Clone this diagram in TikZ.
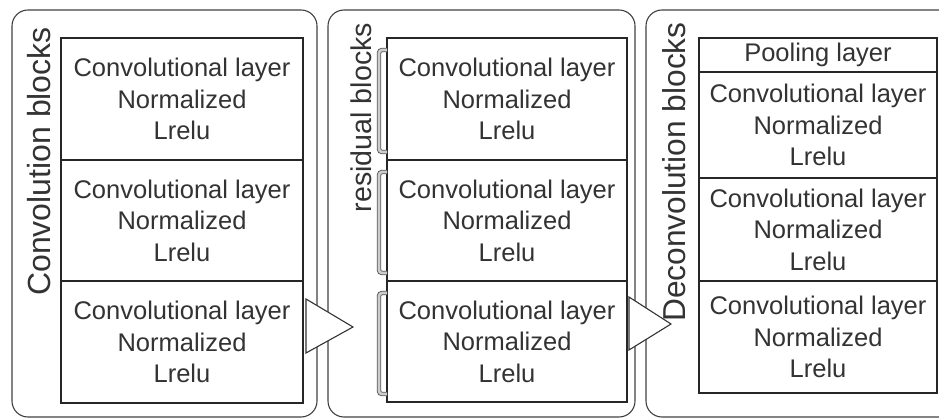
\documentclass[tikz,border=0pt]{standalone}
\usepackage{fontspec}
\setmainfont{Liberation Sans}
\usetikzlibrary{positioning, calc}

\tikzset{
  panel/.style={draw=black!75, line width=1.1pt, rounded corners=16pt},
  layerbox/.style={draw=black!85, line width=1.3pt, fill=white, inner sep=0pt, outer sep=0pt,
    minimum width=#1, align=center, text=black!80,
    font=\fontsize{25.5}{31.5}\selectfont},
  blocklabel/.style={rotate=90, inner sep=0pt, text=black!80, font=\fontsize{#1}{#1}\selectfont},
  passtri/.style={draw=black!80, line width=1.1pt, fill=white, line join=miter},
  resbracket/.style={draw=black!65, double=black!20, double distance=2.6pt, line width=0.9pt,
    rounded corners=3pt}
}

\begin{document}
\begin{tikzpicture}[x=1pt, y=-1pt]
  \useasboundingbox (0,0) rectangle (939,419);
  \clip (0,0) rectangle (939,419);
  % panels
  \draw[panel] (12,10) rectangle (317,417);
  \draw[panel] (328,10) rectangle (635,417);
  \draw[panel] (646,10) rectangle (980,417);

  % convolution blocks
  \node[layerbox=242pt, minimum height=122pt, anchor=north west] (c1) at (61,38)
    {Convolutional layer\\Normalized\\Lrelu};
  \node[layerbox=242pt, minimum height=121pt, below=0pt of c1] (c2)
    {Convolutional layer\\Normalized\\Lrelu};
  \node[layerbox=242pt, minimum height=122pt, below=0pt of c2] (c3)
    {Convolutional layer\\Normalized\\Lrelu};

  % residual blocks
  \node[layerbox=240pt, minimum height=122pt, anchor=north west] (r1) at (387,38)
    {Convolutional layer\\Normalized\\Lrelu};
  \node[layerbox=240pt, minimum height=121pt, below=0pt of r1] (r2)
    {Convolutional layer\\Normalized\\Lrelu};
  \node[layerbox=240pt, minimum height=121pt, below=0pt of r2] (r3)
    {Convolutional layer\\Normalized\\Lrelu};
  \foreach \blk in {r1,r2,r3}
    \draw[resbracket] ($(\blk.north west)+(0,12)$) -| ($(\blk.south west)+(-8,-8)$) -- ++(8,0);

  % deconvolution blocks
  \node[layerbox=238pt, minimum height=34pt, anchor=north west] (pool) at (699,38)
    {Pooling layer};
  \node[layerbox=238pt, minimum height=106pt, below=0pt of pool] (d1)
    {Convolutional layer\\Normalized\\Lrelu};
  \node[layerbox=238pt, minimum height=103pt, below=0pt of d1] (d2)
    {Convolutional layer\\Normalized\\Lrelu};
  \node[layerbox=238pt, minimum height=112pt, below=0pt of d2] (d3)
    {Convolutional layer\\Normalized\\Lrelu};

  % arrows between panels
  \draw[passtri] (306,299) -- (353,327) -- (306,353) -- cycle;
  \draw[passtri] (629,297) -- (671,324) -- (629,350) -- cycle;

  % panel labels
  \node[blocklabel=32] (convlbl) at (39.5,161.5) {Convolution blocks};
  \node[blocklabel=28.6] (reslbl) at (361,117.5) {residual blocks};
  \node[blocklabel=31.7] (deconvlbl) at (674,172) {Deconvolution blocks};
\end{tikzpicture}
\end{document}
